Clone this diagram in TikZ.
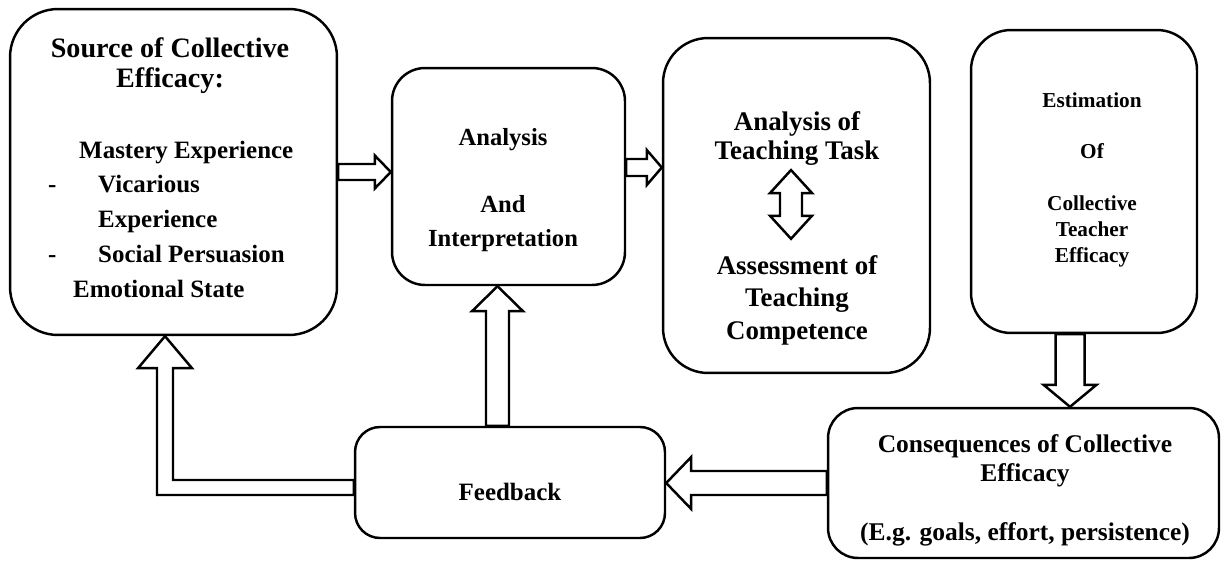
\documentclass[tikz,border=0pt]{standalone}
\usepackage{fontspec}
\setmainfont{Liberation Serif}
\usetikzlibrary{calc}

\newcommand{\boxlines}[2][c]{\begin{tabular}[t]{@{}#1@{}}#2\end{tabular}}

\tikzset{
  box/.style={draw, rounded corners=#1, inner sep=0pt},
  txt/.style 2 args={inner sep=0pt, font=\bfseries\fontsize{#1}{#2}\selectfont},
  % hollow block arrow: half shaft width, half head width, head length
  hollow/.style n args={3}{to path={
      -- ($(\tikztostart)!#1!90:(\tikztotarget)$)
      -- ($($(\tikztotarget)!#3!(\tikztostart)$)!#1!90:(\tikztotarget)$)
      -- ($($(\tikztotarget)!#3!(\tikztostart)$)!#2!90:(\tikztotarget)$)
      -- (\tikztotarget)
      -- ($($(\tikztotarget)!#3!(\tikztostart)$)!#2!-90:(\tikztotarget)$)
      -- ($($(\tikztotarget)!#3!(\tikztostart)$)!#1!-90:(\tikztotarget)$)
      -- ($(\tikztostart)!#1!-90:(\tikztotarget)$)
      -- cycle}},
  hollow both/.style n args={3}{to path={
      -- ($($(\tikztostart)!#3!(\tikztotarget)$)!#2!90:(\tikztotarget)$)
      -- ($($(\tikztostart)!#3!(\tikztotarget)$)!#1!90:(\tikztotarget)$)
      -- ($($(\tikztotarget)!#3!(\tikztostart)$)!#1!90:(\tikztotarget)$)
      -- ($($(\tikztotarget)!#3!(\tikztostart)$)!#2!90:(\tikztotarget)$)
      -- (\tikztotarget)
      -- ($($(\tikztotarget)!#3!(\tikztostart)$)!#2!-90:(\tikztotarget)$)
      -- ($($(\tikztotarget)!#3!(\tikztostart)$)!#1!-90:(\tikztotarget)$)
      -- ($($(\tikztostart)!#3!(\tikztotarget)$)!#1!-90:(\tikztotarget)$)
      -- ($($(\tikztostart)!#3!(\tikztotarget)$)!#2!-90:(\tikztotarget)$)
      -- cycle}}
}

\begin{document}
\begin{tikzpicture}[x=0.02cm, y=-0.02cm, line width=1.4pt]
  \useasboundingbox (0,0) rectangle (1222,561);

  % boxes
  \node[box=0.96cm, minimum width=6.54cm, minimum height=6.52cm] (src)  at (173.5,172)   {};
  \node[box=0.66cm, minimum width=4.66cm, minimum height=4.34cm] (ana)  at (508.5,176.5) {};
  \node[box=0.9cm,  minimum width=5.34cm, minimum height=6.7cm]  (task) at (796.5,205.5) {};
  \node[box=0.8cm,  minimum width=4.52cm, minimum height=6.06cm] (est)  at (1084,181.5)  {};
  \node[box=0.6cm,  minimum width=7.82cm, minimum height=3.0cm]  (cons) at (1023.5,483)  {};
  \node[box=0.5cm,  minimum width=6.2cm,  minimum height=2.22cm] (fb)   at (510,482.5)   {};

  % texts
  \node[txt={16}{17.6}, anchor=base] (src-title) at (170,57)
    {\boxlines{Source of Collective\\Efficacy:}};
  \node[txt={14.2}{19.8}, anchor=base west] (src-list) at (47,158)
    {\boxlines[l]{\hspace*{0.62cm}Mastery Experience\\
      \makebox[1cm][l]{-}Vicarious\\
      \hspace*{1cm}Experience\\
      \makebox[1cm][l]{-}Social Persuasion\\
      \hspace*{0.5cm}Emotional State}};
  \node[txt={14}{19.3}, anchor=base] (ana-text) at (503,145)
    {\boxlines{Analysis\\ \\And\\Interpretation}};
  \node[txt={15.3}{17}, anchor=base] (task-top) at (797,130)
    {\boxlines{Analysis of\\Teaching Task}};
  \node[txt={15.3}{18.7}, anchor=base] (task-bot) at (797,274)
    {\boxlines{Assessment of\\Teaching\\Competence}};
  \node[txt={12.1}{14.74}, anchor=base] (est-text) at (1092,107)
    {\boxlines{Estimation\\ \\Of\\ \\Collective\\Teacher\\Efficacy}};
  \node[txt={14.5}{16.7}, anchor=base] (cons-text) at (1025,452)
    {\boxlines{Consequences of Collective\\Efficacy\\ \\(E.g. goals, effort, persistence)}};
  \node[txt={14.2}{19.8}, anchor=base] (fb-text) at (510,500) {Feedback};

  % arrow ends
  \coordinate (anaR)  at ([yshift=0.18cm]ana.east);
  \coordinate (taskT) at ([xshift=-0.12cm]task-top.south);
  \coordinate (taskB) at ([xshift=-0.12cm,yshift=0.22cm]task-bot.north);
  \coordinate (estB)  at ([xshift=-0.28cm]est.south);
  \coordinate (fbT)   at ([xshift=-0.25cm]fb.north);
  \coordinate (bend)  at (165,487.5);

  % arrows
  \draw (src.east) to[hollow={0.16cm}{0.33cm}{0.32cm}] (src.east -| ana.west);
  \draw (anaR) to[hollow={0.17cm}{0.35cm}{0.30cm}] (anaR -| task.west);
  \draw (taskT) to[hollow both={0.22cm}{0.42cm}{0.46cm}] (taskB);
  \draw (estB) to[hollow={0.29cm}{0.53cm}{0.44cm}] (estB |- cons.north);
  \draw (cons.west) to[hollow={0.24cm}{0.52cm}{0.5cm}] (cons.west -| fb.east);
  \draw (fbT) to[hollow={0.23cm}{0.51cm}{0.5cm}] (fbT |- ana.south);
  \draw ($(fb.west |- bend)+(0,-7.5)$) -- ($(bend)+(8,-7.5)$)
    -- ($(bend |- src.south)+(8,32)$) -- ($(bend |- src.south)+(27,32)$)
    -- (bend |- src.south)
    -- ($(bend |- src.south)+(-27,32)$) -- ($(bend |- src.south)+(-8,32)$)
    -- ($(bend)+(-8,7.5)$) -- ($(fb.west |- bend)+(0,7.5)$) -- cycle;
\end{tikzpicture}
\end{document}
